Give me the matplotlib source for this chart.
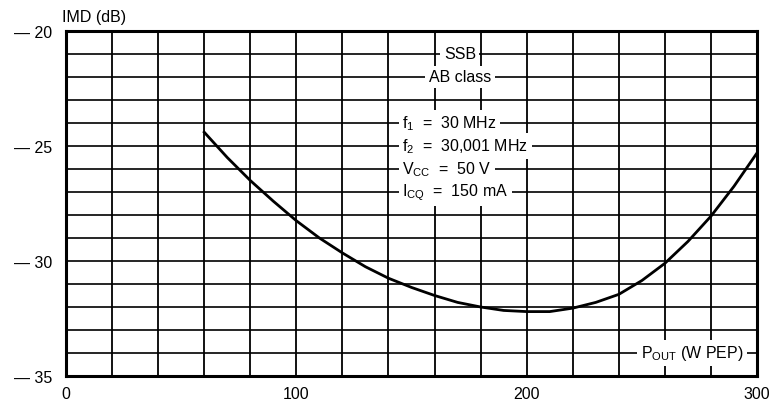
import numpy as np
import matplotlib
matplotlib.use("Agg")
import matplotlib.pyplot as plt

plt.rcParams['font.family'] = ['Liberation Sans', 'DejaVu Sans']
plt.rcParams['mathtext.fontset'] = 'custom'
plt.rcParams['mathtext.rm'] = 'Liberation Sans'

# IMD vs output power
pout = [60, 70, 80, 90, 100, 110, 120, 130, 140, 150, 160, 170, 180, 190,
        200, 210, 220, 230, 240, 250, 260, 270, 280, 290, 300]
imd = [24.4, 25.5, 26.5, 27.4, 28.25, 29.0, 29.65, 30.25, 30.75, 31.15, 31.5,
       31.8, 32.0, 32.15, 32.2, 32.2, 32.05, 31.8, 31.45, 30.85, 30.1, 29.15,
       28.05, 26.75, 25.3]

x_ticks = [0, 100, 200, 300]
y_ticks = [20, 25, 30, 35]

fig = plt.figure(figsize=(7.7, 4.1), dpi=100)
ax = fig.add_axes([0.0857, 0.0805, 0.8975, 0.8415])

ax.set_xlim(0, 300)
ax.set_ylim(35, 20)

# grid every 20 W and 1 dB
for gx in np.arange(20, 300, 20):
    ax.axvline(gx, color='black', lw=1.3, zorder=1)
for gy in np.arange(21, 35, 1):
    ax.axhline(gy, color='black', lw=1.2, zorder=1)

ax.plot(pout, imd, color='black', lw=2.0, zorder=3)

for s in ax.spines.values():
    s.set_linewidth(2.2)

fs = 11.5
ax.set_xticks(x_ticks)
ax.set_xticklabels([str(v) for v in x_ticks])
ax.set_yticks(y_ticks)
ax.set_yticklabels(['\u2014 ' + str(v) for v in y_ticks])
ax.tick_params(length=0, labelsize=fs, pad=7)
ax.tick_params(axis='y', pad=10)

fig.text(0.081, 0.958, 'IMD (dB)', fontsize=fs, ha='left', va='center')

box = dict(facecolor='white', edgecolor='none', pad=2.5)
ax.text(171, 21, 'SSB', ha='center', va='center', fontsize=fs, bbox=box, zorder=4)
ax.text(171, 22, 'AB class', ha='center', va='center', fontsize=fs, bbox=box, zorder=4)
ax.text(146, 24, r'$\mathregular{f_1}$  =  30 MHz', ha='left', va='center',
        fontsize=fs, bbox=box, zorder=4)
ax.text(146, 25, r'$\mathregular{f_2}$  =  30,001 MHz', ha='left', va='center',
        fontsize=fs, bbox=box, zorder=4)
ax.text(146, 26, r'$\mathregular{V_{CC}}$  =  50 V', ha='left', va='center',
        fontsize=fs, bbox=box, zorder=4)
ax.text(146, 27, r'$\mathregular{I_{CQ}}$  =  150 mA', ha='left', va='center',
        fontsize=fs, bbox=box, zorder=4)
ax.text(294, 34, r'$\mathregular{P_{OUT}}$ (W PEP)', ha='right', va='center',
        fontsize=fs, bbox=box, zorder=4)

fig.savefig('out.png', dpi=100)
